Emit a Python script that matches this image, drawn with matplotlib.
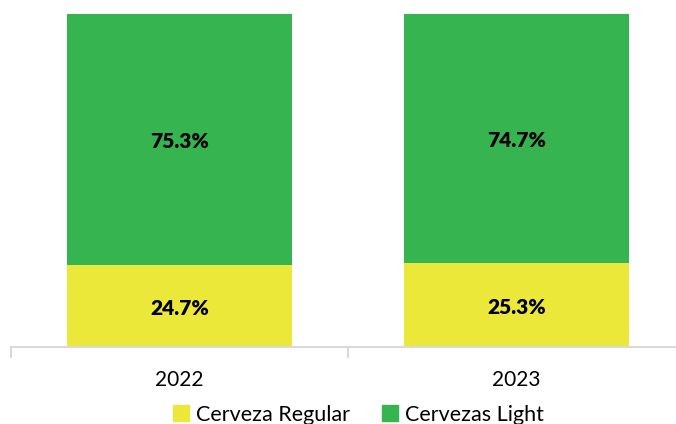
import matplotlib.pyplot as plt
from matplotlib.patches import Patch

plt.rcParams["font.family"] = ["Lato", "DejaVu Sans"]

years = ["2022", "2023"]
regular = [24.7, 25.3]
light = [75.3, 74.7]

c_regular = "#EBE83A"
c_light = "#35B44F"
c_axis = "#D9D9D9"

fig = plt.figure(figsize=(6.76, 4.24), dpi=100)
ax = fig.add_axes([11 / 676, 77 / 424, 674 / 676, 333.5 / 424])

x = range(len(years))
ax.bar(x, regular, width=0.667, color=c_regular)
ax.bar(x, light, width=0.667, bottom=regular, color=c_light)

for i in x:
    ax.text(i, regular[i] / 2 - 0.8, f"{regular[i]:.1f}%", ha="center", va="center",
            fontsize=15, fontweight="heavy", color="black")
    ax.text(i, regular[i] + light[i] / 2 - 0.8, f"{light[i]:.1f}%", ha="center",
            va="center", fontsize=15, fontweight="heavy", color="black")

ax.set_xlim(-0.5, 1.5)
ax.set_ylim(0, 100)
ax.set_yticks([])
for side in ["top", "right", "left"]:
    ax.spines[side].set_visible(False)
ax.spines["bottom"].set_color(c_axis)
ax.spines["bottom"].set_linewidth(1.5)

# category labels centred, tick marks on the category boundaries
ax.set_xticks([-0.5, 0.5, 1.5])
ax.set_xticklabels([])
ax.tick_params(axis="x", length=8, width=1.5, color=c_axis)
for i, yr in enumerate(years):
    ax.text(i, -10, yr, ha="center", va="center", fontsize=15)

handles = [Patch(color=c_regular, label="Cerveza Regular"),
           Patch(color=c_light, label="Cervezas Light")]
fig.legend(handles=handles, loc="center", bbox_to_anchor=(0.53, 0.022),
           ncol=2, frameon=False, fontsize=15.5, handlelength=0.75,
           handleheight=0.75, handletextpad=0.3, columnspacing=1.5,
           borderaxespad=0, borderpad=0)

fig.savefig("out.png", dpi=100)
